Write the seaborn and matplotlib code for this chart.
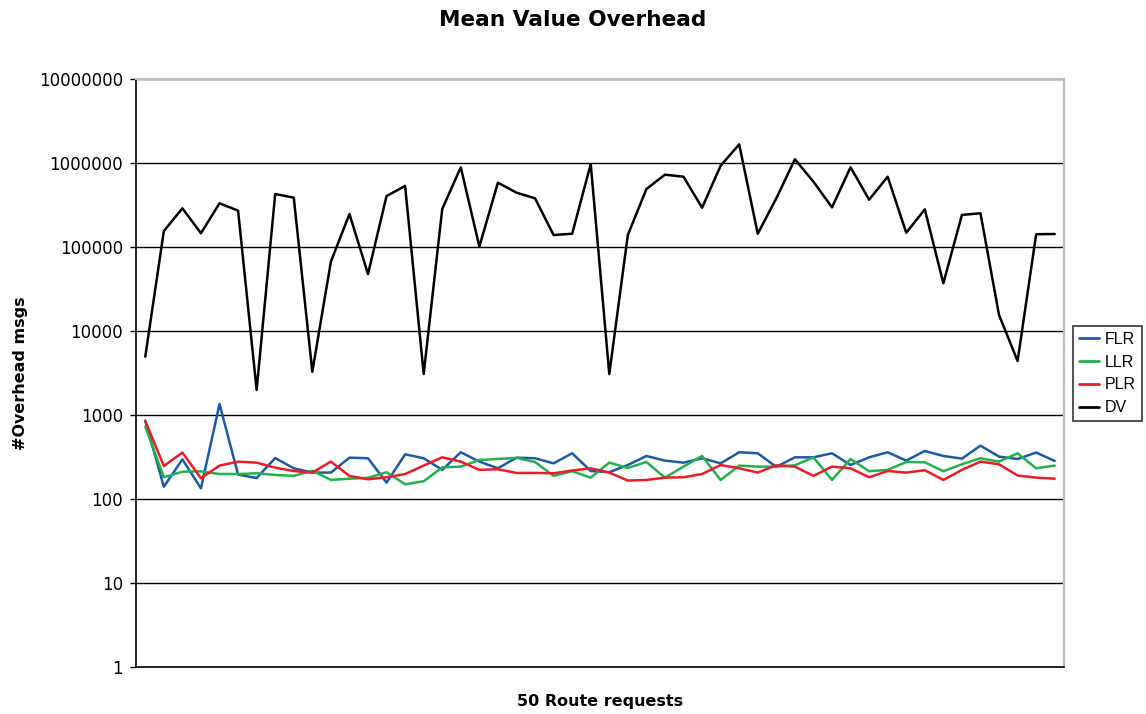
import numpy as np
import pandas as pd
import matplotlib
matplotlib.use("Agg")
import matplotlib.pyplot as plt
from matplotlib.ticker import NullLocator
import seaborn as sns

# Mean overhead messages for each of the 50 route requests, per routing method
requests = list(range(1, 51))

flr = [864, 141, 299, 135, 1364, 197, 179, 310, 234, 208,
       208, 313, 308, 158, 343, 308, 224, 363, 281, 234,
       313, 308, 268, 353, 217, 210, 256, 328, 289, 273,
       308, 268, 363, 353, 243, 316, 316, 353, 256, 316,
       363, 289, 376, 328, 305, 435, 322, 302, 360, 286]

llr = [733, 183, 213, 215, 200, 200, 204, 195, 190, 219,
       170, 176, 180, 210, 151, 164, 240, 245, 294, 302,
       311, 278, 190, 216, 181, 273, 236, 278, 181, 245,
       328, 170, 252, 245, 245, 254, 316, 170, 302, 216,
       224, 278, 276, 216, 261, 308, 281, 353, 234, 252]

plr = [856, 249, 360, 178, 252, 281, 273, 238, 217, 208,
       281, 190, 173, 183, 200, 252, 316, 281, 224, 228,
       206, 206, 204, 220, 234, 208, 167, 170, 181, 183,
       200, 256, 234, 208, 254, 245, 190, 245, 234, 183,
       217, 208, 222, 170, 224, 281, 261, 192, 181, 176]

dv = [4990, 156000, 291000, 147000, 334000, 273000, 2000, 431000, 390000, 3300,
      67400, 249000, 48100, 408000, 537000, 3100, 286000, 896000, 102000, 588000,
      447000, 383000, 140000, 145000, 980000, 3100, 140000, 494000, 732000, 692000,
      296000, 936000, 1680000, 145000, 383000, 1117000, 604000, 299000, 896000, 369000,
      692000, 149000, 283000, 37300, 243000, 254000, 15600, 4430, 143000, 144000]

methods = ["FLR", "LLR", "PLR", "DV"]
method_colors = {"FLR": "#1a5aa8", "LLR": "#22b14c", "PLR": "#ed1c24", "DV": "#000000"}

y_ticks = [1, 10, 100, 1000, 10000, 100000, 1000000, 10000000]
y_tick_labels = ["1", "10", "100", "1000", "10000", "100000", "1000000", "10000000"]

df = pd.DataFrame({
    "request": np.tile(np.arange(len(requests)), len(methods)),
    "overhead": np.concatenate([flr, llr, plr, dv]),
    "method": np.repeat(methods, len(requests)),
})

sns.set_theme(style="white")
plt.rcParams["font.family"] = ["DejaVu Sans"]
plt.rcParams["text.color"] = "black"

W, H = 1146, 714
fig = plt.figure(figsize=(W / 100, H / 100), dpi=100)
ax = fig.add_axes([136 / W, 1 - 667.3 / H, 928 / W, 588 / H])

sns.lineplot(data=df, x="request", y="overhead", hue="method",
             hue_order=methods, palette=method_colors, linewidth=1.8,
             errorbar=None, ax=ax)

ax.set_yscale("log")
ax.set_ylim(1, 1e7)
ax.set_xlim(-0.5, len(requests) - 0.5)
ax.set_yticks(y_ticks)
ax.set_yticklabels(y_tick_labels)
ax.yaxis.set_minor_locator(NullLocator())
ax.set_xticks([])

ax.grid(axis="y", color="black", linewidth=1.0)
ax.set_axisbelow(True)

ax.tick_params(axis="y", which="major", left=True, length=4.5, width=1.0,
               color="black", pad=5, labelsize=12, labelcolor="black")

for side in ("left", "bottom"):
    ax.spines[side].set_color("black")
    ax.spines[side].set_linewidth(1.2)
for side in ("top", "right"):
    ax.spines[side].set_color("#bdbdbd")
    ax.spines[side].set_linewidth(1.6)

ax.set_xlabel("50 Route requests", fontsize=11.5, fontweight="bold",
              color="black", va="top")
ax.xaxis.set_label_coords(0.5, -0.046)
ax.set_ylabel("#Overhead msgs", fontsize=11.5, fontweight="bold", color="black")
ax.yaxis.set_label_coords(-0.1164, 0.5)

fig.suptitle("Mean Value Overhead", x=0.5, y=1 - 20 / H, va="center",
             fontsize=15.6, fontweight="bold", color="black")

handles, labels = ax.get_legend_handles_labels()
leg = ax.legend(handles, labels, loc="center left",
                bbox_to_anchor=(1073 / W, 1 - 373.5 / H),
                bbox_transform=fig.transFigure,
                frameon=True, fancybox=False, framealpha=1,
                edgecolor="#333333", facecolor="white", labelcolor="black",
                prop={"family": "Liberation Sans", "size": 11.5},
                handlelength=1.3, handletextpad=0.35, labelspacing=0.5,
                borderpad=0.35, borderaxespad=0)
leg.get_frame().set_linewidth(1.2)
for line in leg.get_lines():
    line.set_linewidth(2.0)

fig.savefig("out.png", dpi=100, facecolor="white")
